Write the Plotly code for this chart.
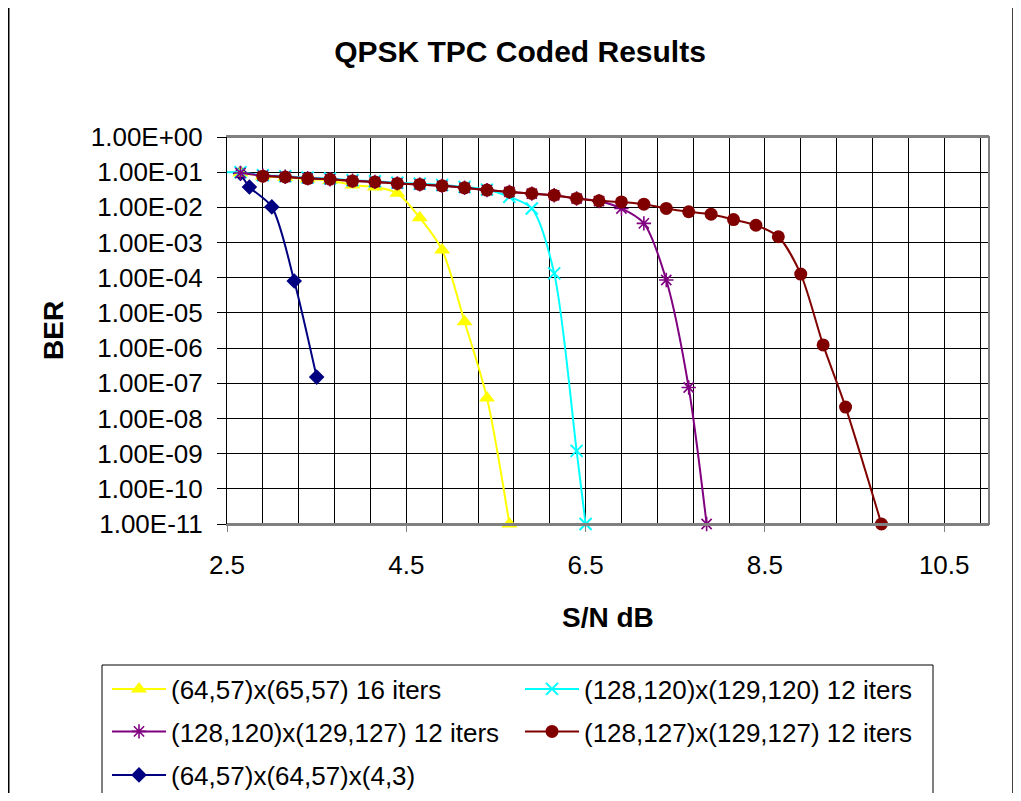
import plotly.graph_objects as go

# ---------------- data ----------------
title_text = "QPSK TPC Coded Results"
x_title = "S/N dB"
y_title = "BER"

x_tick_values = [2.5, 4.5, 6.5, 8.5, 10.5]
x_tick_labels = ["2.5", "4.5", "6.5", "8.5", "10.5"]
y_tick_values = [1e0, 1e-1, 1e-2, 1e-3, 1e-4, 1e-5, 1e-6, 1e-7, 1e-8, 1e-9, 1e-10, 1e-11]
y_tick_labels = ["1.00E+00", "1.00E-01", "1.00E-02", "1.00E-03", "1.00E-04", "1.00E-05",
                 "1.00E-06", "1.00E-07", "1.00E-08", "1.00E-09", "1.00E-10", "1.00E-11"]

series_names = [
    "(64,57)x(65,57) 16 iters",
    "(128,120)x(129,120) 12 iters",
    "(128,120)x(129,127) 12 iters",
    "(128,127)x(129,127) 12 iters",
    "(64,57)x(64,57)x(4,3)",
]

yellow_x = [2.65, 2.9, 3.15, 3.4, 3.65, 3.9, 4.15, 4.4, 4.65, 4.9, 5.15, 5.4, 5.65]
yellow_y = [0.095, 0.078, 0.071, 0.064, 0.058, 0.043, 0.038, 0.025, 5.1e-3, 6.1e-4,
            5.6e-6, 3.8e-8, 1e-11]

cyan_x = [2.4, 2.65, 2.9, 3.15, 3.4, 3.65, 3.9, 4.15, 4.4, 4.65, 4.9, 5.15, 5.4, 5.65,
          5.9, 6.15, 6.4, 6.5]
cyan_y = [0.1, 0.1, 0.082, 0.077, 0.07, 0.066, 0.059, 0.055, 0.05, 0.047, 0.043, 0.038,
          0.032, 0.02, 0.0093, 1.33e-4, 1.2e-9, 1e-11]

purple_x = [2.65, 2.9, 3.15, 3.4, 3.65, 3.9, 4.15, 4.4, 4.65, 4.9, 5.15, 5.4, 5.65,
            5.9, 6.15, 6.4, 6.65, 6.9, 7.15, 7.4, 7.65, 7.85]
purple_y = [0.095, 0.08, 0.074, 0.067, 0.063, 0.057, 0.053, 0.048, 0.045, 0.041, 0.036,
            0.031, 0.0275, 0.0245, 0.022, 0.0178, 0.015, 0.0093, 0.0035, 8.6e-5,
            7.6e-8, 1e-11]

red_x = [2.9, 3.15, 3.4, 3.65, 3.9, 4.15, 4.4, 4.65, 4.9, 5.15, 5.4, 5.65, 5.9, 6.15,
         6.4, 6.65, 6.9, 7.15, 7.4, 7.65, 7.9, 8.15, 8.4, 8.65, 8.9, 9.15, 9.4, 9.8]
red_y = [0.077, 0.073, 0.066, 0.063, 0.056, 0.053, 0.048, 0.045, 0.041, 0.036, 0.031,
         0.0275, 0.0248, 0.0222, 0.0179, 0.0153, 0.0143, 0.0123, 0.0093, 0.0075, 0.0064,
         0.0045, 0.0031, 0.00146, 1.27e-4, 1.23e-6, 2.1e-8, 1e-11]

navy_x = [2.65, 2.75, 3.0, 3.25, 3.5]
navy_y = [0.092, 0.038, 0.0103, 8.1e-5, 1.5e-7]

# ---------------- styling / geometry ----------------
FONT = "Liberation Sans, Arial, Helvetica, sans-serif"
OFF = 8  # page body margin: figure origin sits at (8, 8) in the window
W, H = 1021 - OFF, 801 - 2 * OFF
# plot area in window pixels: x 227..989, y 137..524
ML = 227 - OFF
MT = 137 - OFF
MR = W - (989 - OFF)
MB = H - (524 - OFF)
PW, PH = W - ML - MR, H - MT - MB


def px_x(px):
    """window pixel x -> paper x"""
    return (px - OFF - ML) / PW


def px_y(py):
    """window pixel y -> paper y"""
    return (H - MB - (py - OFF)) / PH


fig = go.Figure()


def add_series(name, xs, ys, color, symbol, size, legend, mline=0):
    fig.add_trace(go.Scatter(
        x=xs, y=ys, name=name, mode="lines+markers", legend=legend,
        line=dict(color=color, width=2, shape="spline", smoothing=0.8),
        marker=dict(symbol=symbol, size=size, color=color,
                    line=dict(color=color, width=mline)),
        cliponaxis=False,
    ))


# navy drawn first so its first marker sits underneath the other series
add_series(series_names[4], navy_x, navy_y, "#000080", "diamond", 12, "legend3")
add_series(series_names[0], yellow_x, yellow_y, "#FFFF00", "triangle-up", 14, "legend")
# cyan line enters from the left edge of the plot (clipped segment)
fig.add_trace(go.Scatter(x=cyan_x[:2], y=cyan_y[:2], mode="lines", showlegend=False,
                         legend="legend", line=dict(color="#00FFFF", width=2),
                         hoverinfo="skip"))
add_series(series_names[1], cyan_x[1:], cyan_y[1:], "#00FFFF", "x-thin", 12, "legend", mline=2)
add_series(series_names[2], purple_x, purple_y, "#800080", "asterisk", 12, "legend2", mline=1.6)
add_series(series_names[3], red_x, red_y, "#800000", "circle", 13, "legend2")

legend_common = dict(
    orientation="h", xref="paper", yref="paper",
    x=px_x(107), xanchor="left", yanchor="middle",
    bgcolor="rgba(0,0,0,0)", borderwidth=0,
    font=dict(size=26, color="black", family=FONT),
    itemwidth=54, entrywidth=344, entrywidthmode="pixels",
    traceorder="normal", itemclick=False, itemdoubleclick=False,
)

fig.update_layout(
    width=W, height=H,
    margin=dict(l=ML, r=MR, t=MT, b=MB, autoexpand=False),
    paper_bgcolor="white", plot_bgcolor="white",
    font=dict(family=FONT, size=26, color="black"),
    title=dict(text="<b>" + title_text + "</b>", xref="container", yref="container",
               x=(520 - OFF) / W, y=1 - (51 - OFF) / H, xanchor="center", yanchor="middle",
               font=dict(size=30, family=FONT, color="black")),
    legend=dict(legend_common, y=px_y(689)),
    legend2=dict(legend_common, y=px_y(731.5)),
    legend3=dict(legend_common, y=px_y(775)),
    xaxis=dict(
        range=[2.5, 11.0], tickmode="array", tickvals=x_tick_values, ticktext=x_tick_labels,
        showgrid=True, gridcolor="black", gridwidth=1,
        minor=dict(tickmode="linear", tick0=2.5, dtick=0.4, showgrid=True,
                   gridcolor="black", gridwidth=1, ticks=""),
        ticks="outside", ticklen=6, tickcolor="#808080", tickwidth=1,
        ticklabelstandoff=11,
        showline=True, linecolor="#808080", linewidth=2, mirror=True,
        zeroline=False, tickfont=dict(size=26, family=FONT, color="black"),
    ),
    yaxis=dict(
        type="log", range=[-11, 0], tickmode="array", tickvals=y_tick_values,
        ticktext=y_tick_labels, showgrid=True, gridcolor="black", gridwidth=1,
        ticks="outside", ticklen=9, tickcolor="black", tickwidth=1,
        ticklabelstandoff=9,
        showline=True, linecolor="black", linewidth=1,
        zeroline=False, tickfont=dict(size=26, family=FONT, color="black"),
    ),
    annotations=[
        dict(text="<b>" + x_title + "</b>", xref="paper", yref="paper",
             x=px_x(608), y=px_y(617), xanchor="center", yanchor="middle",
             showarrow=False, font=dict(size=28, family=FONT, color="black")),
        dict(text="<b>" + y_title + "</b>", xref="paper", yref="paper",
             x=px_x(53), y=px_y(331), xanchor="center", yanchor="middle", textangle=-90,
             showarrow=False, font=dict(size=28, family=FONT, color="black")),
    ],
    shapes=[
        # plot-area border (top, right, bottom)
        dict(type="path", xref="paper", yref="paper", path="M0,1 L1,1 L1,0 L0,0",
             line=dict(color="#808080", width=2)),
        # legend box
        dict(type="rect", xref="paper", yref="paper",
             x0=px_x(102), x1=px_x(933), y0=px_y(665), y1=px_y(812),
             line=dict(color="black", width=1)),
        # chart-area border: left and right edges
        dict(type="line", xref="paper", yref="paper",
             x0=px_x(8.75), x1=px_x(8.75), y0=px_y(0), y1=px_y(812),
             line=dict(color="black", width=1.5)),
        dict(type="line", xref="paper", yref="paper",
             x0=px_x(1013), x1=px_x(1013), y0=px_y(0), y1=px_y(812),
             line=dict(color="black", width=1.5)),
    ],
)

fig.write_html("out.html")
